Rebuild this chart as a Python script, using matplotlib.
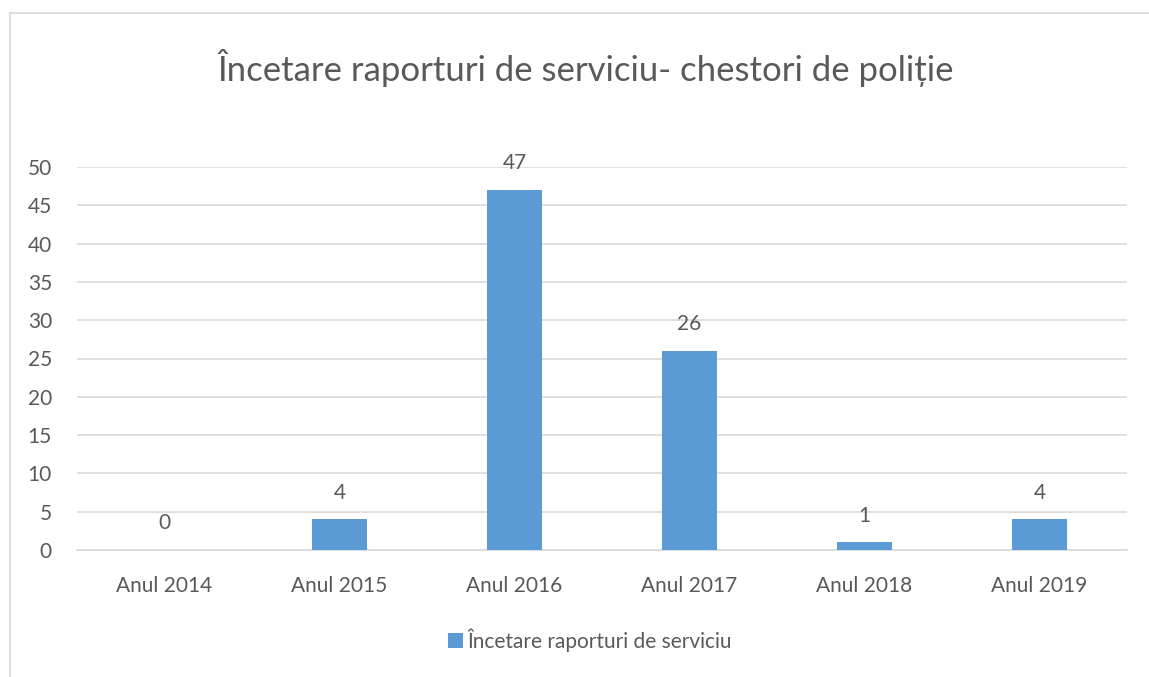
import matplotlib.pyplot as plt
from matplotlib.patches import Patch
from matplotlib.lines import Line2D

# Data
years = ['Anul 2014', 'Anul 2015', 'Anul 2016', 'Anul 2017', 'Anul 2018', 'Anul 2019']
values = [0, 4, 47, 26, 1, 4]
series_name = 'Încetare raporturi de serviciu'
title = 'Încetare raporturi de serviciu- chestori de poliție'

text_color = '#595959'
bar_color = '#5B9BD5'
grid_color = '#D9D9D9'

plt.rcParams['font.family'] = ['Lato', 'DejaVu Sans']

fig = plt.figure(figsize=(11.49, 6.77), dpi=100)
W, H = 1149, 677

# chart border (left and top only, picture is cropped)
fig.add_artist(Line2D([10 / W, 10 / W], [0, 1 - 13 / H], color=grid_color, lw=1.2))
fig.add_artist(Line2D([10 / W, 1], [1 - 13 / H, 1 - 13 / H], color=grid_color, lw=1.2))

left, right, top, bottom = 77, 1127, 167, 550
ax = fig.add_axes([left / W, 1 - bottom / H, (right - left) / W, (bottom - top) / H])

x = range(len(years))
bars = ax.bar(x, values, width=0.314, color=bar_color, zorder=3)

ax.set_ylim(0, 50)
ax.set_xlim(-0.5, len(years) - 0.5)
ax.set_yticks(range(0, 51, 5))
ax.yaxis.grid(True, color=grid_color, lw=1.2, zorder=0)
ax.set_xticks(list(x))
ax.set_xticklabels(years)
ax.tick_params(axis='both', length=0, labelsize=15, colors=text_color)
ax.tick_params(axis='x', pad=19)
ax.tick_params(axis='y', pad=18)
for s in ['top', 'right', 'left']:
    ax.spines[s].set_visible(False)
ax.spines['bottom'].set_color(grid_color)
ax.spines['bottom'].set_linewidth(1.2)

for xi, v in zip(x, values):
    ax.annotate(str(v), (xi, v), xytext=(0, 12), textcoords='offset points',
                ha='center', va='bottom', fontsize=15, color=text_color)

fig.text(586 / W, 1 - 68 / H, title, ha='center', va='center',
         fontsize=25, color=text_color)

handle = Patch(facecolor=bar_color)
fig.legend([handle], [series_name], loc='center', bbox_to_anchor=(590 / W, 1 - 640 / H),
           frameon=False, fontsize=15, labelcolor=text_color, handlelength=0.7,
           handleheight=0.7, handletextpad=0.2)

fig.savefig('out.png', dpi=100, facecolor='white')
